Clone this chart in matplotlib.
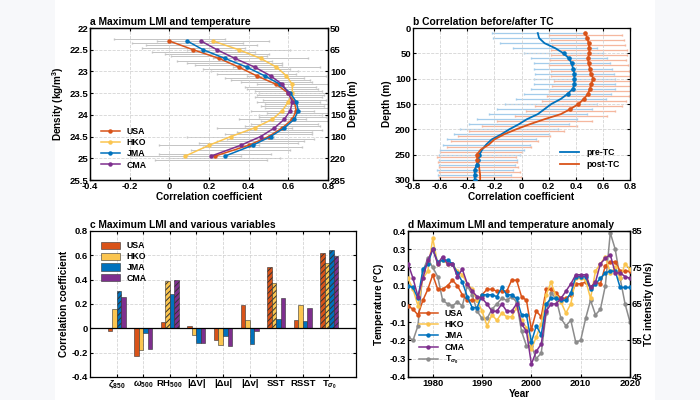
import matplotlib
matplotlib.use('Agg')
import matplotlib.pyplot as plt
import numpy as np
from matplotlib.patches import Patch, Rectangle
from matplotlib.lines import Line2D
from matplotlib.ticker import FuncFormatter

plt.rcParams['font.family'] = ['Liberation Sans', 'DejaVu Sans']
plt.rcParams['font.weight'] = 'bold'
plt.rcParams['axes.labelweight'] = 'bold'
plt.rcParams['axes.titleweight'] = 'bold'
plt.rcParams['mathtext.fontset'] = 'custom'
plt.rcParams['mathtext.rm'] = 'Liberation Sans:bold'
plt.rcParams['mathtext.it'] = 'Liberation Sans:italic'
plt.rcParams['mathtext.bf'] = 'Liberation Sans:bold'
plt.rcParams['axes.unicode_minus'] = False
plt.rcParams['xtick.direction'] = 'in'
plt.rcParams['ytick.direction'] = 'in'
plt.rcParams['xtick.major.size'] = 2.5
plt.rcParams['ytick.major.size'] = 2.5
plt.rcParams['xtick.major.pad'] = 1.5
plt.rcParams['ytick.major.pad'] = 1.5
plt.rcParams['axes.linewidth'] = 0.9
plt.rcParams['hatch.linewidth'] = 0.7
plt.rcParams['font.size'] = 6.8

agencies = ['USA', 'HKO', 'JMA', 'CMA']
colors = ['#D95319', '#FBC54F', '#0072BD', '#7E2F8E']

# ---- panel a: correlation vs density ----
density = [22.3, 22.5, 22.7, 22.9, 23.1, 23.3, 23.5, 23.7, 23.9, 24.1, 24.3, 24.5, 24.7, 24.95]
r_usa_a = [0.00, 0.12, 0.25, 0.35, 0.44, 0.54, 0.60, 0.63, 0.64, 0.62, 0.57, 0.50, 0.40, 0.23]
r_hko_a = [0.22, 0.35, 0.46, 0.54, 0.59, 0.62, 0.62, 0.60, 0.57, 0.52, 0.43, 0.31, 0.20, 0.08]
r_jma_a = [0.09, 0.17, 0.28, 0.39, 0.48, 0.56, 0.61, 0.64, 0.65, 0.63, 0.58, 0.51, 0.42, 0.28]
r_cma_a = [0.16, 0.24, 0.33, 0.43, 0.51, 0.57, 0.60, 0.62, 0.61, 0.58, 0.53, 0.46, 0.36, 0.21]
err_a = [0.28, 0.26, 0.24, 0.22, 0.20, 0.18, 0.17, 0.16, 0.16, 0.17, 0.19, 0.22, 0.25, 0.28]
density_ticks = [22, 22.5, 23, 23.5, 24, 24.5, 25, 25.5]
depth_labels = ['50', '65', '100', '125', '150', '180', '220', '285']

# ---- panel b: before/after TC ----
depth_b = [10, 20, 30, 40, 50, 60, 70, 80, 90, 100, 110, 120, 130, 140, 150,
           160, 170, 180, 190, 200, 210, 220, 230, 240, 250, 260, 270, 280, 290, 300]
r_pre = [0.12, 0.13, 0.17, 0.25, 0.31, 0.35, 0.37, 0.38, 0.39, 0.39, 0.39, 0.38, 0.34, 0.29, 0.22,
         0.17, 0.12, 0.04, -0.02, -0.09, -0.15, -0.22, -0.26, -0.29, -0.31, -0.32, -0.33, -0.345, -0.345, -0.345]
r_post = [0.47, 0.485, 0.495, 0.50, 0.50, 0.49, 0.495, 0.505, 0.51, 0.53, 0.515, 0.505, 0.49, 0.46, 0.42,
          0.36, 0.29, 0.17, 0.06, -0.04, -0.13, -0.20, -0.24, -0.30, -0.33, -0.325, -0.315, -0.31, -0.305, -0.305]
err_pre = [0.34, 0.34, 0.33, 0.31, 0.29, 0.28, 0.28, 0.29, 0.29, 0.30, 0.30, 0.31, 0.32, 0.33, 0.34,
           0.35, 0.36, 0.37, 0.37, 0.36, 0.35, 0.33, 0.32, 0.31, 0.30, 0.29, 0.28, 0.28, 0.27, 0.27]
err_post = [0.27, 0.27, 0.27, 0.28, 0.28, 0.28, 0.29, 0.29, 0.29, 0.29, 0.29, 0.30, 0.30, 0.31, 0.32,
            0.33, 0.34, 0.35, 0.35, 0.35, 0.34, 0.32, 0.31, 0.30, 0.29, 0.29, 0.29, 0.30, 0.30, 0.30]

# ---- panel c: various variables ----
variables = [r'$\zeta_{850}$', r'$\omega_{500}$', r'RH$_{500}$', '|ΔV|', '|Δu|', '|Δv|',
             'SST', 'RSST', r'T$_{\sigma_0}$']
r_usa_c = [-0.02, -0.23, 0.05, 0.02, -0.10, 0.19, 0.50, 0.07, 0.615]
r_hko_c = [0.16, -0.18, 0.39, -0.06, -0.14, 0.07, 0.37, 0.19, 0.54]
r_jma_c = [0.31, -0.04, 0.28, -0.12, -0.065, -0.13, 0.075, 0.06, 0.645]
r_cma_c = [0.26, -0.17, 0.40, -0.12, -0.15, -0.02, 0.25, 0.17, 0.595]
hatch_usa = [False, False, False, False, False, False, True, False, True]
hatch_hko = [False, False, True, False, False, False, True, False, True]
hatch_jma = [True, False, False, False, False, False, False, False, True]
hatch_cma = [False, False, True, False, False, False, False, False, True]

# ---- panel d: time series ----
years = np.arange(1975, 2021)
v_usa = [64.5, 63.5, 62.0, 66.0, 69.0, 73.0, 69.0, 69.0, 70.0, 71.5, 70.0, 67.5, 66.0, 66.0, 66.0,
         67.5, 69.0, 69.0, 68.5, 68.5, 68.5, 71.5, 71.5, 67.0, 66.0, 58.0, 63.0, 61.5, 69.0, 69.0,
         68.0, 66.5, 66.5, 67.5, 70.5, 70.5, 71.0, 69.5, 71.0, 70.5, 75.5, 76.5, 76.5, 74.0, 74.0, 74.0]
v_hko = [72.0, 69.0, 64.5, 72.0, 74.0, 83.0, 76.0, 77.0, 76.0, 76.0, 74.0, 73.0, 70.5, 69.0, 66.0,
         63.0, 59.0, 62.0, 60.5, 62.5, 61.5, 61.5, 64.0, 60.5, 58.5, 52.5, 56.0, 59.5, 67.5, 71.0,
         67.0, 65.5, 62.5, 65.0, 72.0, 72.0, 71.5, 66.5, 74.0, 76.0, 78.0, 73.5, 75.0, 72.0, 76.0, 74.5]
v_jma = [70.0, 69.5, 66.5, 74.5, 76.0, 80.0, 76.5, 77.0, 77.0, 76.0, 73.5, 71.0, 67.0, 64.0, 64.0,
         67.5, 67.5, 67.5, 67.0, 69.5, 67.5, 67.5, 66.5, 62.0, 62.0, 54.5, 59.0, 56.5, 65.0, 66.5,
         66.5, 66.0, 66.0, 68.0, 72.5, 72.5, 72.5, 69.0, 70.5, 72.0, 73.5, 74.0, 74.0, 69.5, 69.5, 69.5]
v_cma = [76.0, 72.0, 67.0, 72.0, 77.0, 80.0, 76.0, 78.0, 76.0, 76.0, 72.5, 74.5, 70.5, 68.5, 67.0,
         66.5, 65.0, 63.0, 63.0, 65.0, 63.0, 63.0, 65.0, 59.5, 57.5, 48.5, 52.0, 54.0, 63.0, 65.0,
         65.0, 66.5, 68.5, 70.5, 73.0, 73.0, 73.0, 69.5, 71.0, 76.0, 77.5, 78.5, 73.5, 73.5, 72.5, 72.0]
t_sigma0 = [-0.18, -0.20, -0.12, 0.18, 0.25, 0.20, 0.15, 0.02, 0.00, -0.01, 0.01, -0.01, 0.10, 0.05, -0.04,
            -0.08, -0.08, -0.03, 0.00, 0.03, 0.02, 0.04, 0.01, -0.15, -0.23, -0.23, -0.30, -0.27, -0.05, 0.06,
            0.03, -0.08, -0.12, -0.09, -0.21, -0.20, -0.08, 0.02, -0.06, -0.03, 0.10, 0.39, 0.30, 0.14, 0.00, -0.10]

fmt = FuncFormatter(lambda v, p: f'{round(v, 2) + 0.0:g}')
grid_kw = dict(ls='--', color='#d4d4d4', lw=0.6)
title_kw = dict(loc='left', fontsize=7.4, pad=2)
lab = 7.2

fig = plt.figure(figsize=(7, 4), dpi=100)
fig.patch.set_facecolor('#F7F8FA')
bg = fig.add_axes([55 / 700, 0, 600 / 700, 1], zorder=-10)
bg.set_axis_off()
bg.add_patch(Rectangle((0, 0), 1, 1, transform=bg.transAxes, facecolor='white', edgecolor='none'))

# ================= panel a =================
ax = fig.add_axes([0.1286, 0.55, 0.34, 0.38])
series_a = [r_usa_a, r_hko_a, r_jma_a, r_cma_a]
for k, r in enumerate(series_a):
    ax.errorbar(r, np.array(density) + 0.05 * k - 0.05, xerr=err_a, fmt='none',
                ecolor='#C4C4C4', elinewidth=0.7, capsize=1, zorder=1)
for k, r in enumerate(series_a):
    ax.plot(r, density, color=colors[k], lw=1.1, marker='o', ms=2.2, label=agencies[k], zorder=3)
ax.set_xlim(-0.4, 0.8)
ax.set_ylim(25.5, 22)
ax.set_xticks(np.arange(-0.4, 0.81, 0.2))
ax.set_yticks(density_ticks)
ax.xaxis.set_major_formatter(fmt)
ax.yaxis.set_major_formatter(fmt)
ax.grid(True, **grid_kw)
ax.tick_params(top=True)
ax.set_xlabel('Correlation coefficient', fontsize=lab, labelpad=1)
ax.set_ylabel('Density (kg/m$^3$)', fontsize=lab, labelpad=2)
ax.set_title('a Maximum LMI and temperature', **title_kw)
ax.legend(loc='lower left', frameon=False, fontsize=6.3, handlelength=2.2,
          labelspacing=0.25, borderaxespad=0.8)
ax2 = ax.twinx()
ax2.set_ylim(25.5, 22)
ax2.set_yticks(density_ticks)
ax2.set_yticklabels(depth_labels)
ax2.set_ylabel('Depth (m)', fontsize=lab, labelpad=1)

# ================= panel b =================
ax = fig.add_axes([0.59, 0.55, 0.31, 0.38])
ax.errorbar(r_pre, depth_b, xerr=err_pre, fmt='none', ecolor='#A3CCEB',
            elinewidth=0.9, capsize=1, zorder=1)
ax.errorbar(r_post, np.array(depth_b) + 4, xerr=err_post, fmt='none', ecolor='#F5B79E',
            elinewidth=0.9, capsize=1, zorder=1)
pre = np.array(r_pre)
post = np.array(r_post)
ax.plot(pre, depth_b, color='#0072BD', lw=1.3, zorder=3)
ax.plot(post, depth_b, color='#D95319', lw=1.3, zorder=3)
sig_pre = np.abs(pre) >= 0.3
sig_post = np.abs(post) >= 0.32
ax.plot(pre[sig_pre], np.array(depth_b)[sig_pre], 'o', color='#0072BD', ms=2.3, zorder=4)
ax.plot(post[sig_post], np.array(depth_b)[sig_post], 'o', color='#D95319', ms=2.3, zorder=4)
ax.set_xlim(-0.8, 0.8)
ax.set_ylim(300, 0)
ax.set_xticks(np.arange(-0.8, 0.81, 0.2))
ax.set_yticks(np.arange(0, 301, 50))
ax.xaxis.set_major_formatter(fmt)
ax.grid(True, **grid_kw)
ax.tick_params(top=True, right=True)
ax.set_xlabel('Correlation coefficient', fontsize=lab, labelpad=1)
ax.set_ylabel('Depth (m)', fontsize=lab, labelpad=2)
ax.set_title('b Correlation before/after TC', **title_kw)
ax.legend([Line2D([], [], color='#0072BD', lw=1.3), Line2D([], [], color='#D95319', lw=1.3)],
          ['pre-TC', 'post-TC'], loc='lower right', frameon=False, fontsize=6.3,
          handlelength=2.2, labelspacing=0.4, borderaxespad=0.8)

# ================= panel c =================
ax = fig.add_axes([0.1286, 0.058, 0.38, 0.3645])
xpos = np.arange(1, len(variables) + 1)
width = 0.17
series_c = [r_usa_c, r_hko_c, r_jma_c, r_cma_c]
hatches = [hatch_usa, hatch_hko, hatch_jma, hatch_cma]
for k, r in enumerate(series_c):
    bars = ax.bar(xpos + (k - 1.5) * width, r, width, color=colors[k],
                  edgecolor='#333333', lw=0.4, zorder=3)
    for b, h in zip(bars, hatches[k]):
        if h:
            b.set_hatch('//////')
ax.axhline(0, color='black', lw=0.9, zorder=4)
ax.set_xlim(0, 10)
ax.set_ylim(-0.4, 0.8)
ax.set_xticks(xpos)
ax.set_xticklabels(variables)
ax.set_yticks(np.arange(-0.4, 0.81, 0.2))
ax.yaxis.set_major_formatter(fmt)
ax.grid(True, **grid_kw)
ax.set_axisbelow(True)
ax.tick_params(top=True, right=True)
ax.set_ylabel('Correlation coefficient', fontsize=lab, labelpad=2)
ax.set_title('c Maximum LMI and various variables', **title_kw)
ax.legend([Patch(facecolor=c, edgecolor='#333333', lw=0.4) for c in colors], agencies,
          loc='upper left', frameon=False, fontsize=6.3, handlelength=2.2,
          handleheight=0.9, labelspacing=0.2, borderaxespad=0.8)

# ================= panel d =================
ax = fig.add_axes([0.583, 0.058, 0.317, 0.3645])
axr = ax.twinx()
handles = []
for k, v in enumerate([v_usa, v_hko, v_jma, v_cma]):
    h, = axr.plot(years, v, color=colors[k], lw=1.1, marker='o', ms=2.2, zorder=3)
    handles.append(h)
h, = ax.plot(years, t_sigma0, color='#8C8C8C', lw=1.1, marker='o', ms=2.2, zorder=2)
handles.append(h)
ax.set_xlim(1975, 2020)
ax.set_ylim(-0.4, 0.4)
axr.set_ylim(45, 85)
ax.set_xticks([1980, 1990, 2000, 2010, 2020])
ax.set_yticks(np.arange(-0.4, 0.41, 0.1))
ax.yaxis.set_major_formatter(fmt)
axr.set_yticks([45, 55, 65, 75, 85])
ax.grid(True, **grid_kw)
ax.tick_params(top=True)
ax.set_xlabel('Year', fontsize=lab, labelpad=0.5)
ax.set_ylabel('Temperature ($^{o}$C)', fontsize=lab, labelpad=2)
axr.set_ylabel('TC intensity (m/s)', fontsize=lab, labelpad=1)
ax.set_title('d Maximum LMI and temperature anomaly', **title_kw)
axr.legend(handles, agencies + [r'T$_{\sigma_0}$'], loc='lower left', frameon=False,
           fontsize=6.3, handlelength=2.2, labelspacing=0.25, borderaxespad=0.8)

fig.savefig('out.png', dpi=100, facecolor=fig.get_facecolor())
